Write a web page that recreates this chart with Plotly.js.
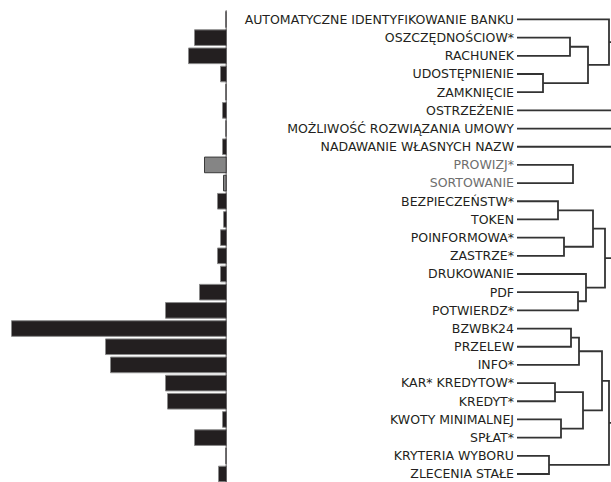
<!DOCTYPE html>
<html>
<head>
<meta charset="utf-8">
<script src="https://cdn.plot.ly/plotly-3.0.1.min.js"></script>
<style>html,body{margin:0;padding:0;background:#fff;}#chart{width:611px;height:482px;}</style>
</head>
<body>
<div id="chart"></div>
<script>
// Row labels (top to bottom)
const labels = [
  "AUTOMATYCZNE IDENTYFIKOWANIE BANKU", "OSZCZĘDNOŚCIOW*", "RACHUNEK", "UDOSTĘPNIENIE",
  "ZAMKNIĘCIE", "OSTRZEŻENIE", "MOŻLIWOŚĆ ROZWIĄZANIA UMOWY", "NADAWANIE WŁASNYCH NAZW",
  "PROWIZJ*", "SORTOWANIE", "BEZPIECZEŃSTW*", "TOKEN", "POINFORMOWA*", "ZASTRZE*",
  "DRUKOWANIE", "PDF", "POTWIERDZ*", "BZWBK24", "PRZELEW", "INFO*", "KAR* KREDYTOW*",
  "KREDYT*", "KWOTY MINIMALNEJ", "SPŁAT*", "KRYTERIA WYBORU", "ZLECENIA STAŁE"
];
// Bar values (extending left)
const values = [1, 32, 38, 6, 1, 4, 1, 4, 22, 3, 9, 3, 6, 9, 6, 27, 61, 215, 121, 116, 61, 59, 4, 32, 1, 8];
// Highlighted (gray) rows
const highlighted = ["PROWIZJ*", "SORTOWANIE"];
// Dendrogram merges: children (leaf index or "m"+merge index) and merge height
const mergeA = [1, 3, "m0", 0, 8, 10, 12, "m5", 15, 14, "m7", 17, "m11", 20, 22, "m13", "m12", 24, "m16"];
const mergeB = [2, 4, "m1", "m2", 9, 11, 13, "m6", 16, "m8", "m9", 18, 19, 21, 23, "m14", "m15", 25, "m17"];
const mergeH = [53, 26, 71, 92, 56, 41, 47, 76, 61, 69, 88, 54, 62, 38, 44, 66, 85, 32, 92];
// Nodes continuing beyond the visible right edge
const openNodes = ["m3", 5, 6, 7, "m10", "m18"];
const openHeight = 130;

const W = 611, H = 482;
const axisX = 226.5;
const dendroStart = 517;
const rowTop = -1.07, rowBottom = 25.44;

const barColors = labels.map(l => highlighted.includes(l) ? "#858585" : "#231f20");
const barLines = labels.map(l => highlighted.includes(l) ? "#3a3a3a" : "#8a8a8a");
const ticktext = labels.map(l => highlighted.includes(l) ? '<span style="color:#6e6e6e">' + l + '</span>' : l);
const rows = labels.map((_, i) => i);

// Dendrogram geometry from merges
const nodeY = {}, nodeH = {};
rows.forEach(i => { nodeY[i] = i; nodeH[i] = 0; });
const dx = [], dy = [];
mergeH.forEach((h, k) => {
  const a = mergeA[k], b = mergeB[k];
  const ya = nodeY[a], yb = nodeY[b];
  dx.push(nodeH[a], h, h, nodeH[b], null);
  dy.push(ya, ya, yb, yb, null);
  nodeY["m" + k] = (ya + yb) / 2;
  nodeH["m" + k] = h;
});
openNodes.forEach(n => {
  dx.push(nodeH[n], openHeight, null);
  dy.push(nodeY[n], nodeY[n], null);
});

const traces = [
  {
    type: "bar", orientation: "h", x: values, y: rows, xaxis: "x", yaxis: "y",
    width: 0.86,
    marker: { color: barColors, line: { color: barLines, width: 1 } },
    hoverinfo: "skip"
  },
  {
    type: "scatter", mode: "lines", x: dx, y: dy, xaxis: "x2", yaxis: "y",
    line: { color: "#333333", width: 1.8 }, hoverinfo: "skip", connectgaps: false
  }
];

const layout = {
  width: W, height: H,
  margin: { l: 0, r: 0, t: 0, b: 0 },
  paper_bgcolor: "#fff", plot_bgcolor: "rgba(0,0,0,0)",
  showlegend: false,
  font: { family: "DejaVu Sans", size: 12.5, color: "#231f20" },
  xaxis: {
    domain: [0, axisX / W], range: [axisX, 0], showgrid: false, zeroline: false,
    showticklabels: false, showline: false, ticks: "", fixedrange: true
  },
  xaxis2: {
    domain: [dendroStart / W, 1], range: [0, W - dendroStart], anchor: "y",
    showgrid: false, zeroline: false, showticklabels: false, showline: false, ticks: ""
  },
  yaxis: {
    anchor: "x2", side: "left", range: [rowBottom, rowTop],
    tickmode: "array", tickvals: rows, ticktext: ticktext,
    showgrid: false, zeroline: false, showline: false, ticks: "",
    ticklabelstandoff: 2, ticklabeloverflow: "allow",
    tickfont: { family: "DejaVu Sans", size: 12.5, color: "#231f20" }
  },
  shapes: [
    { type: "line", xref: "x", yref: "y", x0: 0, x1: 0, y0: -0.5, y1: rowBottom,
      line: { color: "#231f20", width: 1.5 } }
  ]
};

Plotly.newPlot("chart", traces, layout, { displayModeBar: false, staticPlot: true });
</script>
</body>
</html>
